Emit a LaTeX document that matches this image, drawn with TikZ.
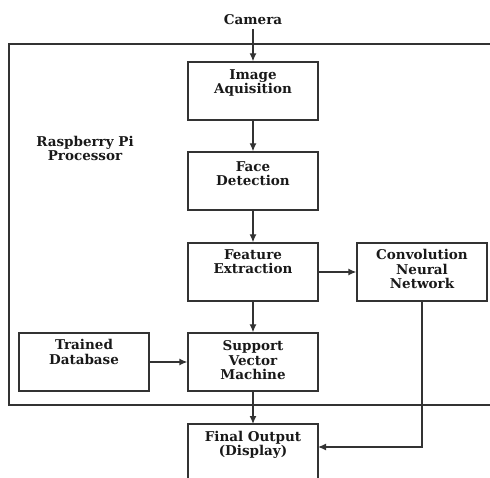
\documentclass[tikz,border=0pt]{standalone}
\usepackage{fontspec}
\setmainfont{DejaVu Serif}
\usetikzlibrary{arrows.meta}
\begin{document}
\begin{tikzpicture}[x=1pt,y=-1pt,
  line/.style={draw=black!80, line width=1.3pt},
  arr/.style={line, -{Latex[length=8pt,width=7pt]}},
  blk/.style={line, rectangle, inner sep=0pt, minimum width=130pt, minimum height=58pt},
  lbl/.style={font=\bfseries\fontsize{13.5}{14.5}\selectfont, align=center, anchor=north, inner sep=0pt, text=black!90}]
\useasboundingbox (0,0) rectangle (490,478);
\clip (0,0) rectangle (490,478);
% outer processor box
\draw[line] (520,44) -- (9,44) -- (9,405) -- (520,405);
\node[lbl] (rpi) at (85,136) {Raspberry Pi\\Processor};
\node[lbl] (cam) at (253,14) {Camera};
\coordinate (camb) at (253,29);
% boxes
\node[blk] (ia) at (253,91) {};
\node[blk] (fd) at (253,181) {};
\node[blk] (fe) at (253,272) {};
\node[blk] (cnn) at (422,272) {};
\node[blk] (td) at (84,362) {};
\node[blk] (svm) at (253,362) {};
\draw[line] (188,500) -- (188,424) -- (318,424) -- (318,500);
\coordinate (fo) at (253,424);
\coordinate (foR) at (318,447);
% labels
\node[lbl] (t1) at ([yshift=-8pt]ia.north) {Image\\Aquisition};
\node[lbl] (t2) at ([yshift=-10pt]fd.north) {Face\\Detection};
\node[lbl] (t3) at ([yshift=-7pt]fe.north) {Feature\\Extraction};
\node[lbl] (t4) at ([yshift=-7pt]cnn.north) {Convolution\\Neural\\Network};
\node[lbl] (t5) at ([yshift=-7pt]td.north) {Trained\\Database};
\node[lbl] (t6) at ([yshift=-8pt]svm.north) {Support\\Vector\\Machine};
\node[lbl] (t7) at ([yshift=-7pt]fo) {Final Output\\(Display)};
% connectors
\draw[arr] (camb) -- (ia.north);
\draw[arr] (ia.south) -- (fd.north);
\draw[arr] (fd.south) -- (fe.north);
\draw[arr] (fe.east) -- (cnn.west);
\draw[arr] (fe.south) -- (svm.north);
\draw[arr] (td.east) -- (svm.west);
\draw[arr] (svm.south) -- (fo);
\draw[arr] (cnn.south) |- (foR);
\end{tikzpicture}
\end{document}
